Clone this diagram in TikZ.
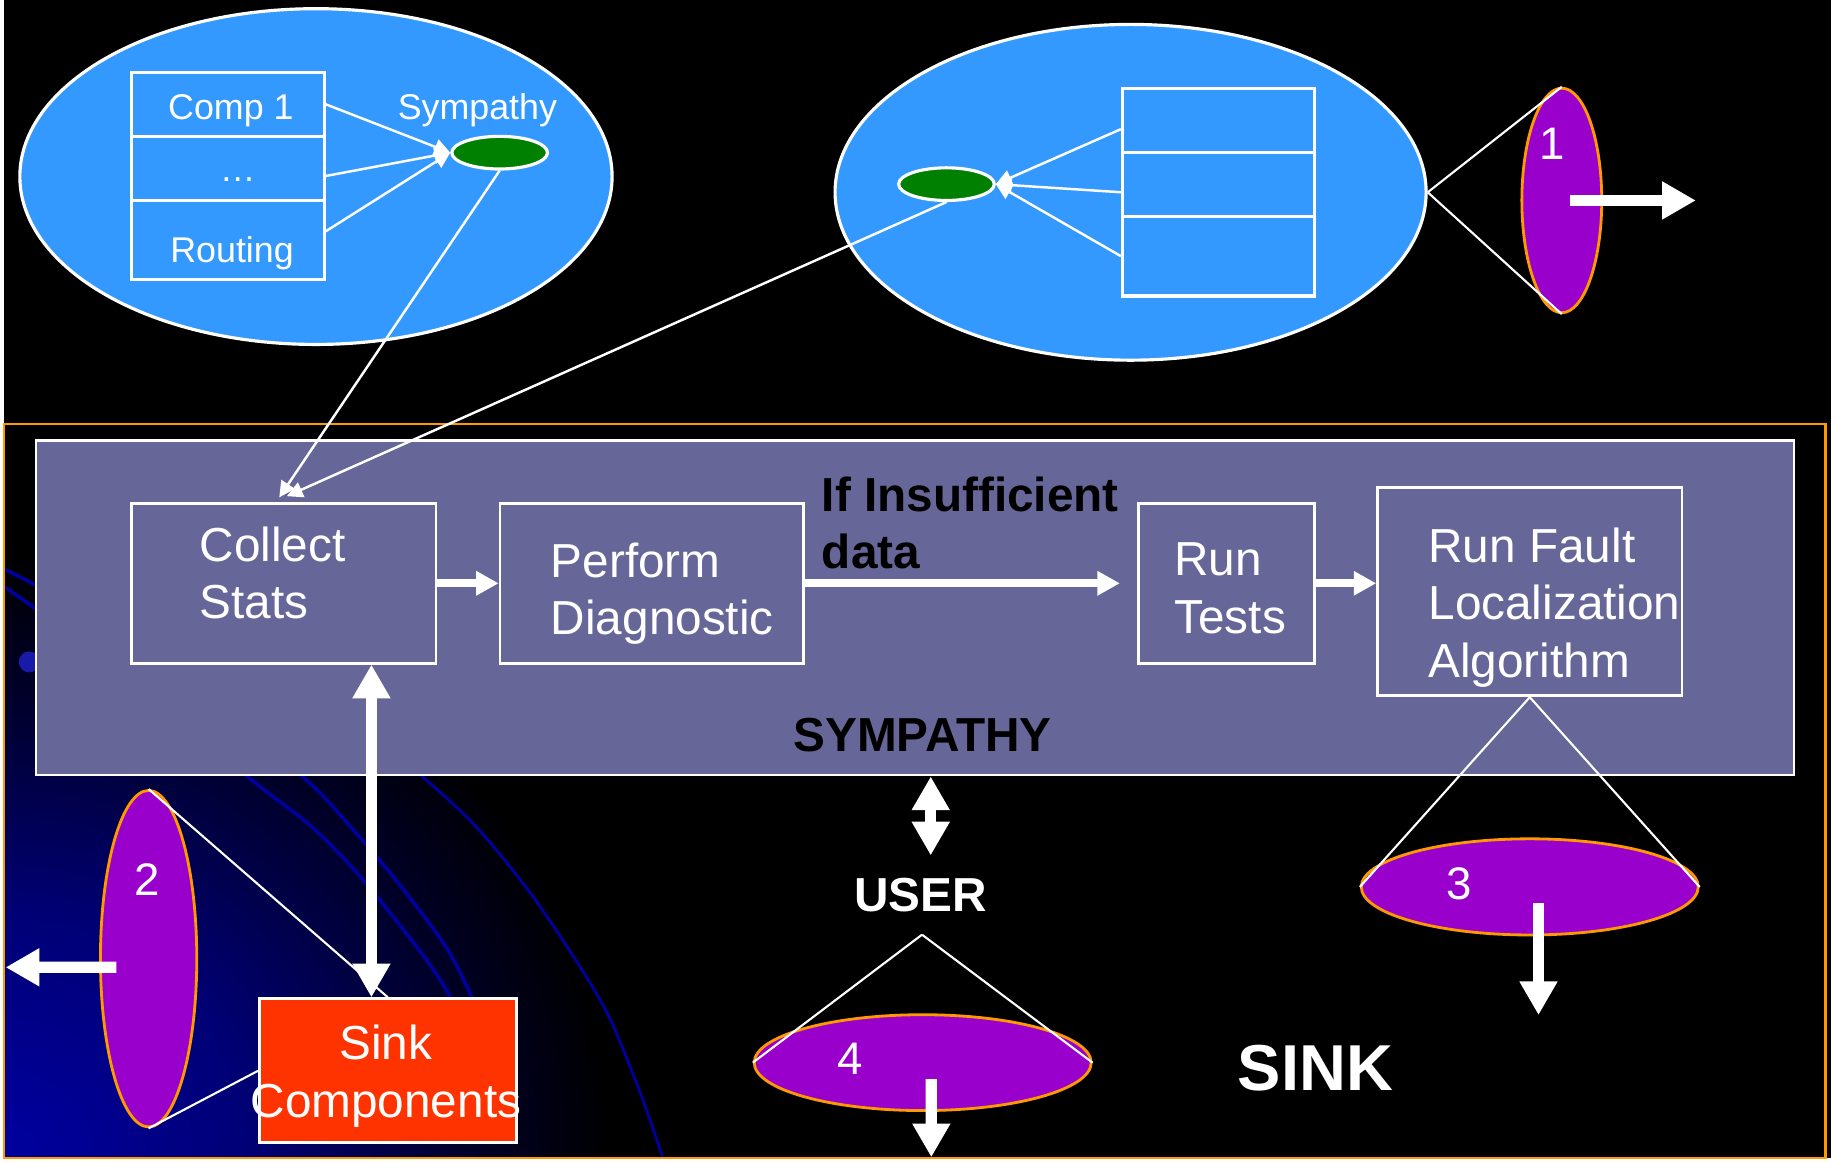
\documentclass[tikz,border=0pt]{standalone}
\usepackage{fontspec}
\setmainfont{Liberation Sans}
\usetikzlibrary{arrows.meta,shapes.geometric,calc}
\definecolor{skyfill}{HTML}{3399FF}
\definecolor{symfill}{HTML}{666699}
\definecolor{sinkred}{HTML}{FF3300}
\definecolor{purp}{HTML}{9900CC}
\definecolor{orng}{HTML}{FF9900}
\definecolor{grn}{HTML}{008000}
\definecolor{curveblue}{RGB}{0,0,160}
\definecolor{glowa}{RGB}{0,0,160}
\definecolor{glowb}{RGB}{0,0,118}
\definecolor{glowc}{RGB}{0,0,42}
\pgfdeclareradialshading{sinkglow}{\pgfpoint{0bp}{0bp}}{color(0bp)=(glowa); color(10bp)=(glowb); color(19bp)=(glowc); color(25bp)=(black); color(50bp)=(black)}
\tikzset{
  blueell/.style={ellipse, draw=white, line width=0.9pt, fill=skyfill, inner sep=0pt},
  greenell/.style={ellipse, draw=white, line width=0.9pt, fill=grn, inner sep=0pt},
  purpell/.style={ellipse, draw=orng, line width=0.8pt, fill=purp, inner sep=0pt},
  tabrow/.style={rectangle, draw=white, line width=0.9pt, inner sep=0pt},
  procbox/.style={rectangle, draw=white, line width=0.8pt, fill=symfill, inner sep=0pt},
  boxtext/.style={text=white, font=\fontsize{13.6}{16.4}\selectfont, align=left, inner sep=0pt, anchor=north west},
  smalltext/.style={text=white, font=\fontsize{10.2}{12}\selectfont, inner sep=0pt, anchor=base},
  numtext/.style={text=white, font=\fontsize{13}{15}\selectfont, inner sep=0pt, anchor=base},
  boldlabel/.style={font=\bfseries\fontsize{13.6}{16.4}\selectfont, inner sep=0pt, anchor=base},
  thinline/.style={draw=white, line width=0.6pt},
  thinarrow/.style={draw=white, line width=0.7pt, -{Triangle[length=4.5pt,width=4.5pt]}},
  medarrow/.style={draw=white, line width=2.3pt, -{Triangle[length=6.4pt,width=6.6pt]}},
  bigarrow/.style={draw=white, line width=3.2pt, -{Triangle[length=9.6pt,width=10.2pt]}},
  bigdouble/.style={draw=white, line width=3.2pt, {Triangle[length=9.6pt,width=10.2pt]}-{Triangle[length=9.6pt,width=10.2pt]}},
  bgcurve/.style={draw=curveblue, line width=1pt},
}
\begin{document}
\begin{tikzpicture}[x=0.011677cm, y=-0.011677cm]
% background
\fill[black] (0,0) rectangle (1568,994);
\begin{scope}
  \clip (0,364) rectangle (1563,994);
  \shade[shading=sinkglow] (0,994) circle[radius=6.1cm];
  \draw[bgcurve] plot[smooth] coordinates {(0,503) (100,575) (209.5,666.6) (263.8,709) (305.8,752) (355.6,814) (382.3,853.6) (420,925)};
  \draw[bgcurve] plot[smooth] coordinates {(0,488) (130,560) (256,666) (294.4,705.7) (336.4,755) (378.5,811) (401.5,855) (430,920)};
  \draw[bgcurve, line width=0.8pt] plot[smooth] coordinates {(200,560) (300,615) (359,666) (405,709) (451,765) (493,827) (520,873.6) (546.6,938.7) (565.8,994)};
  \fill[curveblue!90!white] (22,568) circle[radius=0.105cm];
\end{scope}
\node[draw=orng, line width=0.7pt, minimum width=18.246cm, minimum height=7.351cm, inner sep=0pt] (sinkframe) at (781.75,678.75) {};

% top-left cluster
\node[blueell, minimum width=5.932cm, minimum height=3.363cm] (blueL) at (268,151.5) {};
\node[tabrow, minimum width=1.927cm, minimum height=0.642cm] (tl1) at (192.5,89.5) {};
\node[tabrow, minimum width=1.927cm, minimum height=0.642cm] (tl2) at (192.5,144.5) {};
\node[tabrow, minimum width=1.927cm, minimum height=0.794cm] (tl3) at (192.5,206) {};
\node[greenell, minimum width=0.958cm, minimum height=0.327cm] (gL) at (425.6,131) {};
\node[smalltext] (tcomp) at (195,102.2) {Comp 1};
\node[smalltext] (tdots) at (201,156) {…};
\node[smalltext] (trout) at (196,225) {Routing};
\node[smalltext] (tsymp) at (406.5,102.5) {Sympathy};
\draw[thinarrow] (tl1.east) -- (gL.west);
\draw[thinarrow] ([yshift=-0.076cm]tl2.east) -- (gL.west);
\draw[thinarrow] ([yshift=0.088cm]tl3.east) -- (gL.west);

% top-right cluster
\node[blueell, minimum width=5.92cm, minimum height=3.363cm] (blueR) at (967,165) {};
\node[tabrow, minimum width=1.921cm, minimum height=0.642cm] (tr1) at (1042.3,103.2) {};
\node[tabrow, minimum width=1.921cm, minimum height=0.642cm] (tr2) at (1042.3,158.2) {};
\node[tabrow, minimum width=1.921cm, minimum height=0.799cm] (tr3) at (1042.3,219.8) {};
\node[greenell, minimum width=0.958cm, minimum height=0.327cm] (gR) at (809,158) {};
\draw[thinarrow] ([yshift=-0.089cm]tr1.west) -- (gR.east);
\draw[thinarrow] ([yshift=-0.079cm]tr2.west) -- (gR.east);
\draw[thinarrow] (tr3.west) -- (gR.east);

% ellipse 1
\node[purpell, minimum width=0.8cm, minimum height=2.249cm] (p1) at (1337,172) {};
\draw[thinline] (blueR.east) -- (p1.north);
\draw[thinline] (blueR.east) -- (p1.south);
\coordinate (a1e) at (1452,172);
\draw[bigarrow] ([xshift=0.082cm]p1.center) -- (a1e);
\node[numtext] (n1) at (1329,137) {1};

% SYMPATHY block
\node[procbox, minimum width=17.609cm, minimum height=3.351cm] (sym) at (782,521.5) {};
\node[procbox, minimum width=3.048cm, minimum height=1.6cm] (collect) at (240.5,500.5) {};
\node[procbox, minimum width=3.036cm, minimum height=1.6cm] (perform) at (556,500.5) {};
\node[procbox, minimum width=1.763cm, minimum height=1.6cm] (runtests) at (1049.5,500.5) {};
\node[procbox, minimum width=3.048cm, minimum height=2.09cm] (runfault) at (1309.5,507.5) {};
\node[boxtext] (tcollect) at (167.5,451.3) {Collect\\Stats};
\node[boxtext] (tperform) at (469,465) {Perform\\Diagnostic};
\node[boxtext] (truntests) at (1004,465) {Run\\Tests};
\node[boxtext] (trunfault) at (1222,452) {Run Fault\\Localization\\Algorithm};
\node[boxtext, text=black, font=\bfseries\fontsize{13.6}{16.4}\selectfont] (tif) at (701.5,408.5) {If Insufficient\\data};
\node[boldlabel, text=black] (tsympathy) at (788.5,645) {SYMPATHY};
\draw[medarrow] (collect.east) -- (perform.west);
\draw[medarrow] (perform.east) -- ($(runtests.west)+(-15,0)$);
\draw[medarrow] (runtests.east) -- (runtests.east -| runfault.west);
\draw[thinarrow] (gL.south) -- ($(collect.north)+(-4,-4)$);
\draw[thinarrow] (gR.south) -- ($(collect.north)+(2.5,-5)$);

% sink components and ellipse 2
\node[rectangle, draw=white, line width=0.8pt, fill=sinkred, inner sep=0pt, minimum width=2.572cm, minimum height=1.443cm] (sink) at (329.7,918.8) {};
\node[boxtext, align=center, anchor=north] (tsink) at (328,879) {Sink\\Components};
\coordinate (cx) at (315.6,0);
\draw[bigdouble] (collect.south -| cx) -- (sink.north -| cx);
\node[purpell, minimum width=0.965cm, minimum height=3.37cm] (p2) at (124.4,822.6) {};
\draw[thinline] (p2.north) -- (sink.north);
\draw[thinline] (p2.south) -- (sink.west);
\coordinate (a2e) at (1.7,830);
\draw[bigarrow] ($(p2.center)+(-27.7,7.4)$) -- (a2e);
\node[numtext] (n2) at (123.3,768) {2};

% ellipse 3
\node[purpell, minimum width=3.375cm, minimum height=0.963cm] (p3) at (1309.5,761) {};
\draw[thinline] (runfault.south) -- (p3.west);
\draw[thinline] (runfault.south) -- (p3.east);
\coordinate (a3e) at (1317,871);
\draw[bigarrow] ($(p3.center)+(7.5,14)$) -- (a3e);
\node[numtext] (n3) at (1249,772) {3};

% user and ellipse 4
\coordinate (ux) at (795.5,0);
\coordinate (ubot) at (795.5,734);
\draw[bigdouble] (sym.south -| ux) -- (ubot);
\node[boldlabel, text=white] (tuser) at (787,782) {USER};
\coordinate (uapex) at (788,802);
\node[purpell, minimum width=3.375cm, minimum height=0.96cm] (p4) at (788.6,911.8) {};
\draw[thinline] (uapex) -- (p4.west);
\draw[thinline] (uapex) -- (p4.east);
\coordinate (a4e) at (796,993);
\draw[bigarrow] ($(p4.center)+(7.4,14.2)$) -- (a4e);
\node[numtext] (n4) at (726,922) {4};

% SINK label
\node[font=\bfseries\fontsize{18.5}{22}\selectfont, text=white, inner sep=0pt, anchor=base] (tsinkbig) at (1125.6,936) {SINK};
\end{tikzpicture}
\end{document}
